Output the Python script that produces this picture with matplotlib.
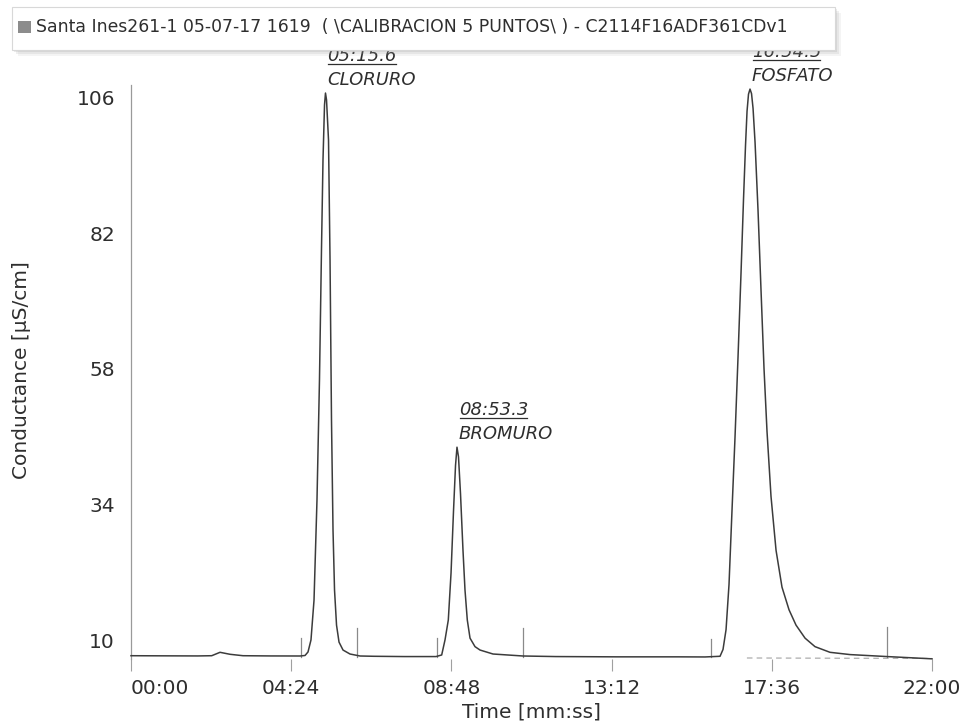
import matplotlib
matplotlib.use("Agg")
import matplotlib.pyplot as plt
from matplotlib.patches import Rectangle
from matplotlib.lines import Line2D

plt.rcParams['font.family'] = ['DejaVu Sans']

# ---------------- data ----------------
time_s = [0, 50, 110, 133, 146.7, 163.2, 184.6, 230, 278.5,
          286.8, 291.7, 296.6, 301.6, 306.5, 310.6, 313.9, 316.4, 318.9, 320.5,
          322.2, 325.5, 328.0, 330.4, 332.9, 335.4, 338.7, 342.8, 349.4, 360.9, 377.4,
          400, 450, 502.6,
          512.0, 517.5, 522.9, 527.4, 531.5, 534.8, 537.2, 539.7, 543.0, 547.1,
          550.4, 554.2, 558.7, 566.9, 575.2, 596.6, 646.0,
          700, 800, 900, 945.9, 970.7,
          975.6, 980.6, 985.5, 990.4, 995.4, 1000.3, 1005.3, 1009.4, 1012.7,
          1015.2, 1017.6, 1020.1, 1022.6, 1025.1, 1028.4, 1033.3, 1038.2, 1043.2,
          1048.1, 1054.7, 1063.0, 1072.8, 1084.4, 1095.9, 1110.8, 1127.2, 1151.9,
          1184.9, 1245.9, 1320.0]
conductance = [7.40, 7.38, 7.36, 7.40, 8.00, 7.65, 7.40, 7.36, 7.35,
               7.44, 8.06, 10.18, 17.2, 34.9, 56.1, 79.0, 94.9, 104.6, 106.7,
               105.5, 98.4, 77.2, 49.0, 29.6, 19.0, 12.8, 9.8, 8.4, 7.7, 7.35,
               7.30, 7.25, 7.25,
               7.53, 10.2, 13.7, 22.0, 33.0, 41.0, 44.2, 42.5, 36.0, 26.0,
               19.0, 13.7, 10.5, 9.0, 8.4, 7.7, 7.35,
               7.25, 7.2, 7.2, 7.18, 7.3,
               8.5, 12.0, 20.0, 33.0, 46.0, 60.0, 75.0, 88.0, 97.5,
               103.5, 106.5, 107.4, 106.6, 104.0, 98.0, 86.0, 72.0, 58.0,
               47.0, 35.5, 26.0, 19.5, 15.5, 12.8, 10.5, 9.0, 8.0,
               7.6, 7.25, 6.85]

peak_times = [320.5, 537.2, 1020.1]
peak_heights = [106.7, 44.2, 107.4]
peak_names = ["CLORURO", "BROMURO", "FOSFATO"]
peak_rt_labels = ["05:15.6", "08:53.3", "16:54.5"]

marker_times = [279.7, 372.4, 504.3, 646.0, 955.3, 1245.9]
marker_tops = [10.5, 12.3, 10.5, 12.3, 10.4, 12.5]
marker_base = 7.25

dashed_times = [1015, 1320]
dashed_values = [7.0, 6.9]

xtick_values = [0, 264, 528, 792, 1056, 1320]
xtick_labels = ["00:00", "04:24", "08:48", "13:12", "17:36", "22:00"]
ytick_values = [10, 34, 58, 82, 106]
ytick_labels = ["10", "34", "58", "82", "106"]

legend_text = "Santa Ines261-1 05-07-17 1619  ( \\CALIBRACION 5 PUNTOS\\ ) - C2114F16ADF361CDv1"

# ---------------- figure ----------------
W, H = 963, 725
fig = plt.figure(figsize=(W / 100, H / 100), dpi=100)
fig.patch.set_facecolor("white")

ax_l, ax_r, ax_t, ax_b = 131, 932, 85, 659
ax = fig.add_axes([ax_l / W, 1 - ax_b / H, (ax_r - ax_l) / W, (ax_b - ax_t) / H])
ax.set_xlim(0, 1320)
ax.set_ylim(6.82, 108.12)

ax.plot(time_s, conductance, color="#3c3c3c", lw=1.1, clip_on=False, zorder=3)
ax.plot(dashed_times, dashed_values, color="#b5b5b5", lw=1.0, ls=(0, (4, 3)), zorder=2)
for t, top in zip(marker_times, marker_tops):
    ax.plot([t, t], [marker_base, top], color="#8a8a8a", lw=0.9, zorder=2)

for side in ["top", "right", "bottom"]:
    ax.spines[side].set_visible(False)
ax.spines["left"].set_color("#9a9a9a")
ax.spines["left"].set_linewidth(0.9)

ax.set_xticks(xtick_values)
ax.set_xticklabels(xtick_labels)
ax.set_yticks(ytick_values)
ax.set_yticklabels(ytick_labels)
ax.tick_params(axis="x", length=8.5, width=0.8, color="#a0a0a0", pad=6,
               labelsize=14.5, labelcolor="#2e2e2e")
ax.tick_params(axis="y", length=0, pad=11.5, labelsize=14.5, labelcolor="#2e2e2e")
ax.get_xticklabels()[0].set_horizontalalignment("left")

ax.set_xlabel("Time [mm:ss]", fontsize=14.5, color="#2e2e2e")
ax.set_ylabel("Conductance [µS/cm]", fontsize=14.5, color="#2e2e2e")
ax.xaxis.set_label_coords(0.5, (ax_b - 712) / (ax_b - ax_t))
ax.xaxis.label.set_va("center")
ax.yaxis.set_label_coords((22 - ax_l) / (ax_r - ax_l), (ax_b - 370) / (ax_b - ax_t))
ax.yaxis.label.set_va("center")

rt_texts = []
for t, h, name, rt in zip(peak_times, peak_heights, peak_names, peak_rt_labels):
    ax.annotate(name, xy=(t, h), xytext=(2, 13), textcoords="offset pixels",
                ha="left", va="center", fontsize=13, style="italic",
                color="#2e2e2e", annotation_clip=False)
    txt = ax.annotate(rt, xy=(t, h), xytext=(2, 37), textcoords="offset pixels",
                      ha="left", va="center", fontsize=13, style="italic",
                      color="#2e2e2e", annotation_clip=False)
    rt_texts.append(txt)

# legend box at top
def fx(px):
    return px / W

def fy(py):
    return 1 - py / H

box_top, box_bot = 7, 50
for off, a in [(6, 0.10), (4, 0.15), (2, 0.2)]:
    fig.add_artist(Rectangle((fx(12 + off), fy(box_bot + off)), fx(823), (box_bot - box_top) / H,
                             transform=fig.transFigure, facecolor="#9a9a9a",
                             edgecolor="none", alpha=a, zorder=5))
fig.add_artist(Rectangle((fx(12), fy(box_bot)), fx(823), (box_bot - box_top) / H,
                         transform=fig.transFigure,
                         facecolor="white", edgecolor="#d8d8d8", lw=0.8, zorder=6))
fig.add_artist(Rectangle((fx(18), fy(33)), fx(13), 12 / H, transform=fig.transFigure,
                         facecolor="#8c8c8c", edgecolor="none", zorder=7))
fig.text(fx(36), fy(27), legend_text, fontsize=12.4, color="#2e2e2e",
         ha="left", va="center", zorder=7)

# underline retention times
fig.canvas.draw()
renderer = fig.canvas.get_renderer()
inv = fig.transFigure.inverted()
for txt in rt_texts:
    bb = txt.get_window_extent(renderer)
    (x0, y0) = inv.transform((bb.x0 + 1, bb.y0 + 1))
    (x1, _) = inv.transform((bb.x1 - 1, bb.y0 + 1))
    fig.add_artist(Line2D([x0, x1], [y0, y0], transform=fig.transFigure,
                          color="#2e2e2e", lw=0.9, zorder=4))

fig.savefig("out.png", dpi=100, facecolor="white")
